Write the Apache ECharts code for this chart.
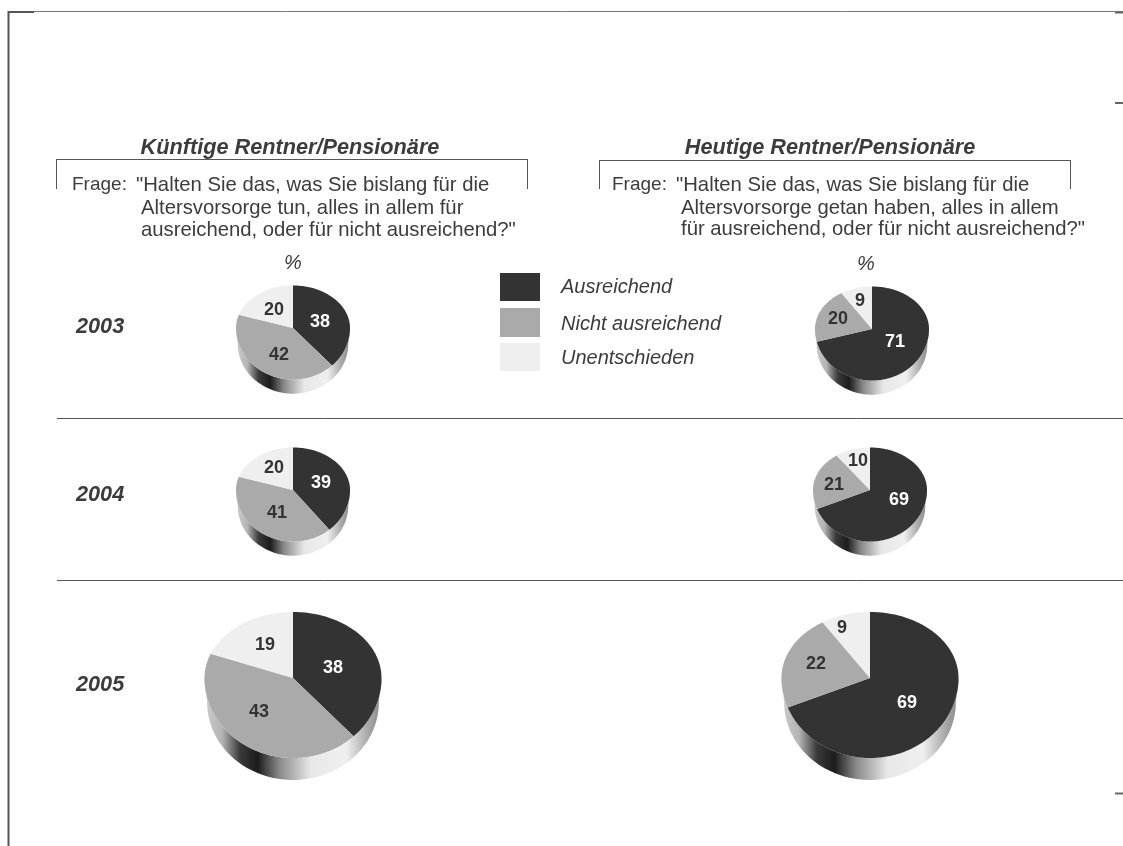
<!DOCTYPE html>
<html><head><meta charset="utf-8">
<style>html,body{margin:0;padding:0;background:#fff}#c{width:1123px;height:846px}</style>
<script src="https://cdn.jsdelivr.net/npm/echarts@6/dist/echarts.min.js"></script>
</head><body><div id="c"></div>
<script>
const categories = ['Ausreichend', 'Nicht ausreichend', 'Unentschieden'];
const years = ['2003', '2004', '2005'];
const kuenftige2003 = [38, 42, 20];
const kuenftige2004 = [39, 41, 20];
const kuenftige2005 = [38, 43, 19];
const heutige2003 = [71, 20, 9];
const heutige2004 = [69, 21, 10];
const heutige2005 = [69, 22, 9];
const sliceColors = ['#333333', '#aaaaaa', '#efefef'];
const labelColors = ['#ffffff', '#333333', '#333333'];

// layout: pie anchor, radius and hand-placed label anchors of the printed original
const SMALL = 57, BIG = 88.5;
const pies = [
  {v: kuenftige2003, cx: 293, cy: 328, r: SMALL, lab: [[320,322],[279,355],[274,310]]},
  {v: kuenftige2004, cx: 293, cy: 490, r: SMALL, lab: [[321,483],[277,513],[274,468]]},
  {v: kuenftige2005, cx: 293, cy: 678, r: BIG,   lab: [[333,668],[259,712],[265,645]]},
  {v: heutige2003,   cx: 872, cy: 329, r: SMALL, lab: [[895,342],[838,319],[860,301]]},
  {v: heutige2004,   cx: 870, cy: 490, r: SMALL, lab: [[899,500],[834,485],[858,461]]},
  {v: heutige2005,   cx: 870, cy: 678, r: BIG,   lab: [[907,703],[816,664],[842,628]]}
];

function pt(p, deg, lower) {
  const a = deg * Math.PI / 180, s = Math.sin(a), c = Math.cos(a);
  const ry = c > 0 ? p.r * 0.746 : p.r * 0.904;
  if (lower) {
    // bottom rim of the drum: slightly narrower, reaching the same lowest point
    const depth = p.r * 0.248, k = 0.97;
    return [p.cx + p.r * k * s, p.cy - ry * k * c + depth + ry * (1 - k)];
  }
  return [p.cx + p.r * s, p.cy - ry * c];
}
function renderPie(p) {
  return function (params, api) {
    const i = params.dataIndex;
    const total = p.v.reduce((a, b) => a + b, 0);
    let before = 0;
    for (let k = 0; k < i; k++) before += p.v[k];
    const a0 = before / total * 360, a1 = (before + api.value(0)) / total * 360;
    const pts = [[p.cx, p.cy]];
    for (let d = a0; d < a1; d += 1) pts.push(pt(p, d));
    pts.push(pt(p, a1));
    const children = [
      {type: 'polygon', z2: 2, shape: {points: pts}, style: {fill: sliceColors[i]}},
      {type: 'text', z2: 3, style: {text: String(api.value(0)), x: p.lab[i][0], y: p.lab[i][1],
        align: 'center', verticalAlign: 'middle', fill: labelColors[i],
        font: 'bold 18px "Liberation Sans", Arial, sans-serif'}}
    ];
    if (i === 0) {
      const side = [];
      for (let d = 90; d <= 270; d += 2) side.push(pt(p, d));
      for (let d = 270; d >= 90; d -= 2) side.push(pt(p, d, true));
      children.unshift({type: 'polygon', z2: 1, shape: {points: side}, style: {
        fill: new echarts.graphic.LinearGradient(0, 0, 1, 0, [
          {offset: 0, color: '#cccccc'}, {offset: 0.1, color: '#b4b4b4'},
          {offset: 0.2, color: '#3a3a3a'}, {offset: 0.3, color: '#1c1c1c'},
          {offset: 0.42, color: '#888888'}, {offset: 0.6, color: '#e8e8e8'},
          {offset: 0.8, color: '#efefef'}, {offset: 0.92, color: '#aaaaaa'},
          {offset: 1, color: '#888888'}
        ])}});
    }
    return {type: 'group', children};
  };
}

const FONT = '"Liberation Sans", Arial, sans-serif';
function txt(text, x, y, font, fill, align) {
  return {type: 'text', x, y, style: {text, font, fill: fill || '#3c3c3c',
    align: align || 'left', verticalAlign: 'middle'}};
}
function line(x1, y1, x2, y2, w, color) {
  return {type: 'line', shape: {x1, y1, x2, y2}, style: {stroke: color || '#555', lineWidth: w || 1}};
}
const BODY = '20.3px ' + FONT;
const graphics = [
  line(8, 11.5, 1123, 11.5, 1, '#777'), line(8, 12, 34, 12, 2, '#555'),
  line(8.5, 11, 8.5, 846, 2, '#555'),
  line(1115, 12.5, 1123, 12.5, 2, '#666'), line(1115, 103, 1123, 103, 2, '#666'), line(1115, 793.5, 1123, 793.5, 2, '#666'),
  line(57, 418.5, 1123, 418.5, 1, '#555'), line(57, 580.5, 1123, 580.5, 1, '#555'),
  line(56.5, 159.5, 527.5, 159.5, 1, '#555'), line(56.5, 159, 56.5, 189, 1, '#555'), line(527.5, 159, 527.5, 189, 1, '#555'),
  line(599.5, 160.5, 1070.5, 160.5, 1, '#555'), line(599.5, 160, 599.5, 189, 1, '#555'), line(1070.5, 160, 1070.5, 189, 1, '#555'),
  txt('Künftige Rentner/Pensionäre', 290, 148, 'italic bold 21.7px ' + FONT, '#3c3c3c', 'center'),
  txt('Heutige Rentner/Pensionäre', 830, 148, 'italic bold 21.7px ' + FONT, '#3c3c3c', 'center'),
  txt('Frage:', 72, 185, '19px ' + FONT),
  txt('"Halten Sie das, was Sie bislang für die', 136, 185, BODY),
  txt('Altersvorsorge tun, alles in allem für', 141, 208, BODY),
  txt('ausreichend, oder für nicht ausreichend?"', 141, 230, BODY),
  txt('Frage:', 612, 185, '19px ' + FONT),
  txt('"Halten Sie das, was Sie bislang für die', 676, 185, BODY),
  txt('Altersvorsorge getan haben, alles in allem', 681, 208, BODY),
  txt('für ausreichend, oder für nicht ausreichend?"', 681, 229, BODY),
  txt('%', 293, 263, 'italic 20px ' + FONT, '#3c3c3c', 'center'),
  txt('%', 866, 264, 'italic 20px ' + FONT, '#3c3c3c', 'center')
];
const yearY = [327, 495, 685];
years.forEach((y, i) => graphics.push(txt(y, 76, yearY[i], 'italic bold 21.7px ' + FONT)));
const legendY = [[273, 28], [308, 29], [343, 28]], legendTextY = [287, 324, 358];
categories.forEach((c, i) => {
  graphics.push({type: 'rect', shape: {x: 500, y: legendY[i][0], width: 40, height: legendY[i][1]}, style: {fill: sliceColors[i]}});
  graphics.push(txt(c, 561, legendTextY[i], 'italic 20px ' + FONT));
});

const chart = echarts.init(document.getElementById('c'), null, {renderer: 'canvas'});
chart.setOption({
  animation: false,
  backgroundColor: '#ffffff',
  graphic: {elements: graphics},
  series: pies.map((p, n) => ({
    type: 'custom',
    name: (n < 3 ? 'Künftige Rentner/Pensionäre ' : 'Heutige Rentner/Pensionäre ') + years[n % 3],
    coordinateSystem: 'none',
    renderItem: renderPie(p),
    data: p.v.map((v, i) => ({name: categories[i], value: [v]}))
  }))
});
</script></body></html>
